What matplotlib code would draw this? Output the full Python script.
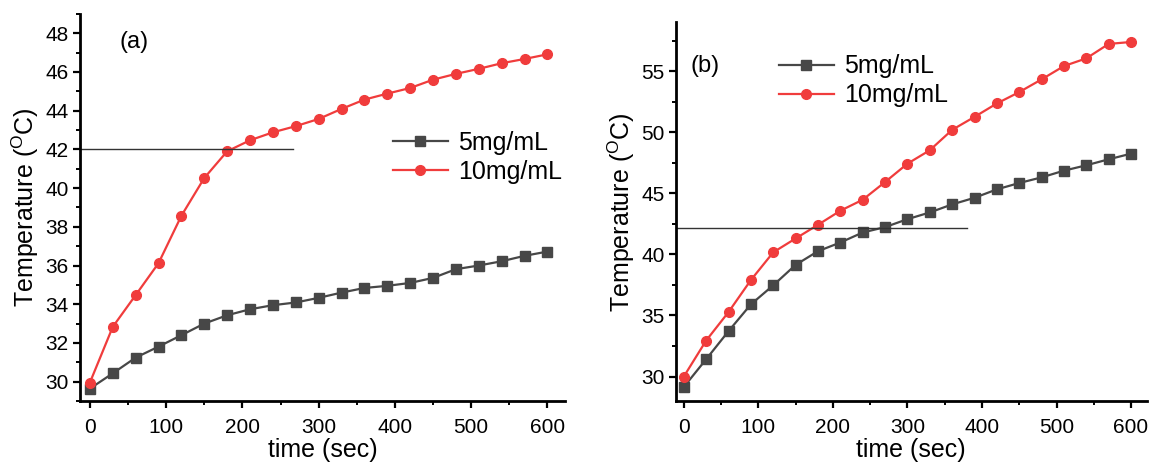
import matplotlib
matplotlib.use("Agg")
import matplotlib.pyplot as plt
from matplotlib.ticker import MultipleLocator

plt.rcParams['font.family'] = ['Liberation Sans', 'DejaVu Sans']
plt.rcParams['mathtext.fontset'] = 'custom'
plt.rcParams['mathtext.rm'] = 'Liberation Sans'

# time points (sec)
time = [0, 30, 60, 90, 120, 150, 180, 210, 240, 270, 300, 330, 360, 390, 420,
        450, 480, 510, 540, 570, 600]

# panel (a)
a_5mg = [29.64, 30.43, 31.24, 31.81, 32.40, 33.00, 33.43, 33.74, 33.95, 34.09, 34.33,
         34.60, 34.84, 34.95, 35.10, 35.36, 35.81, 36.00, 36.22, 36.50, 36.72]
a_10mg = [29.95, 32.83, 34.47, 36.12, 38.57, 40.52, 41.90, 42.47, 42.88, 43.20, 43.57,
          44.09, 44.57, 44.88, 45.17, 45.60, 45.90, 46.16, 46.45, 46.67, 46.91]

# panel (b)
b_5mg = [29.15, 31.42, 33.72, 35.91, 37.47, 39.14, 40.26, 40.97, 41.79, 42.23, 42.88,
         43.43, 44.09, 44.63, 45.32, 45.84, 46.30, 46.85, 47.29, 47.78, 48.24]
b_10mg = [30.00, 32.95, 35.28, 37.90, 40.17, 41.30, 42.42, 43.57, 44.47, 45.92, 47.42,
          48.52, 50.19, 51.25, 52.35, 53.28, 54.32, 55.41, 56.04, 57.22, 57.38]

GRAY = '#474747'
RED = '#f03c3c'

fig = plt.figure(figsize=(11.49, 4.62), dpi=100)
axa = fig.add_axes([0.0696, 0.132, 0.4221, 0.838])
axb = fig.add_axes([0.588, 0.132, 0.410, 0.820])


def style(ax, ymaj, ymin):
    for s in ['top', 'right']:
        ax.spines[s].set_visible(False)
    for s in ['left', 'bottom']:
        ax.spines[s].set_linewidth(2)
    ax.xaxis.set_major_locator(MultipleLocator(100))
    ax.xaxis.set_minor_locator(MultipleLocator(50))
    ax.yaxis.set_major_locator(MultipleLocator(ymaj))
    ax.yaxis.set_minor_locator(MultipleLocator(ymin))
    ax.tick_params(which='major', direction='out', length=5, width=1.6, labelsize=15, pad=3)
    ax.tick_params(axis='x', which='major', pad=7)
    ax.tick_params(which='minor', direction='out', length=3, width=1.4)
    ax.set_xlabel('time (sec)', fontsize=18, labelpad=1)
    ax.set_ylabel('Temperature ($^{\\rm O}$C)', fontsize=18, labelpad=3)


# (a)
axa.plot(time, a_5mg, color=GRAY, marker='s', markersize=6.5, lw=1.6, label='5mg/mL')
axa.plot(time, a_10mg, color=RED, marker='o', markersize=7, lw=1.6, label='10mg/mL')
axa.plot([-13, 267], [42, 42], color='#333333', lw=1)
axa.set_xlim(-13, 623)
axa.set_ylim(29, 49)
style(axa, 2, 1)
axa.text(0.082, 0.928, '(a)', transform=axa.transAxes, fontsize=17, va='center')
axa.legend(loc='upper left', bbox_to_anchor=(0.645, 0.698), frameon=False,
           fontsize=18, handlelength=2.2, handletextpad=0.4, borderpad=0,
           borderaxespad=0, labelspacing=0.2)

# (b)
axb.plot(time, b_5mg, color=GRAY, marker='s', markersize=6.5, lw=1.6, label='5mg/mL')
axb.plot(time, b_10mg, color=RED, marker='o', markersize=7, lw=1.6, label='10mg/mL')
axb.plot([-11, 380], [42.15, 42.15], color='#333333', lw=1)
axb.set_xlim(-11, 621)
axb.set_ylim(28, 59)
style(axb, 5, 2.5)
axb.text(0.032, 0.884, '(b)', transform=axb.transAxes, fontsize=17, va='center')
axb.legend(loc='upper left', bbox_to_anchor=(0.219, 0.915), frameon=False,
           fontsize=18, handlelength=2.2, handletextpad=0.4, borderpad=0,
           borderaxespad=0, labelspacing=0.2)

plt.savefig('out.png', dpi=100)
plt.close()
